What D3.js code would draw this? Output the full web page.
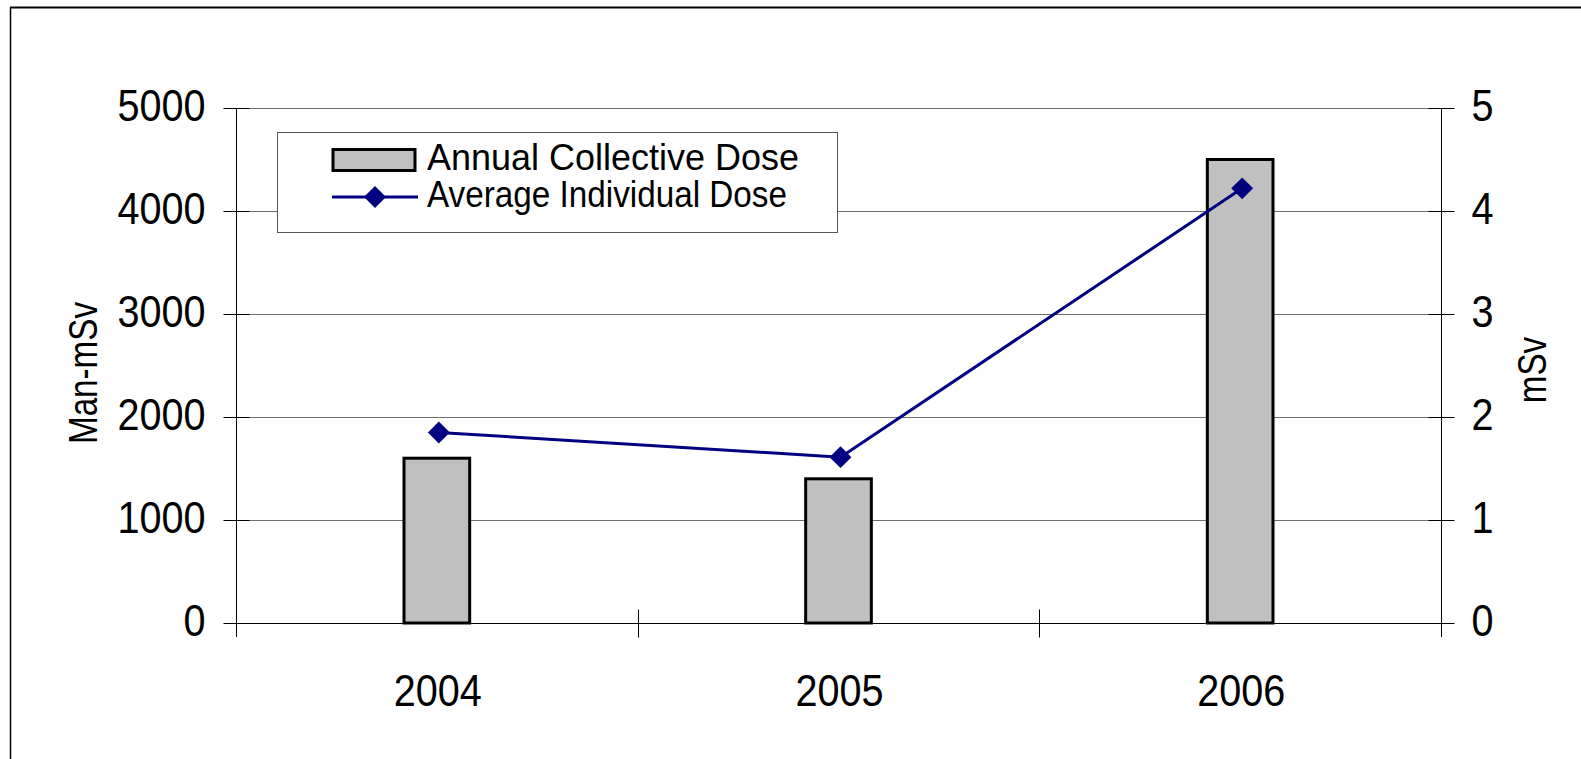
<!DOCTYPE html>
<html>
<head>
<meta charset="utf-8">
<script src="https://cdn.jsdelivr.net/npm/d3@7"></script>
<style>
  html, body { margin: 0; padding: 0; background: #fff; }
  svg { display: block; font-family: "Liberation Sans", Arial, sans-serif; }
</style>
</head>
<body>
<svg id="chart" width="1581" height="759"></svg>
<script>
// Dose data per year
const years = ["2004", "2005", "2006"];
const collectiveDose = [1600, 1400, 4500];     // Man-mSv (bars, left axis)
const individualDose = [1.85, 1.61, 4.22];     // mSv (line, right axis)
const leftTicks = [0, 1000, 2000, 3000, 4000, 5000];
const rightTicks = [0, 1, 2, 3, 4, 5];
const seriesNames = ["Annual Collective Dose", "Average Individual Dose"];

const svg = d3.select("#chart");
const W = 1581, H = 759;
const plot = { left: 236, right: 1441, top: 108, bottom: 623 };
const squeeze = 0.9; // the chart's lettering is slightly condensed

// outer frame (top and left edges)
svg.append("line").attr("x1", 10).attr("x2", W).attr("y1", 7.5).attr("y2", 7.5)
  .attr("stroke", "#000").attr("stroke-width", 2);
svg.append("line").attr("x1", 10.5).attr("x2", 10.5).attr("y1", 7).attr("y2", H)
  .attr("stroke", "#000").attr("stroke-width", 1.5);

const x = d3.scaleBand().domain(years).range([plot.left, plot.right]).padding(0);
const yL = d3.scaleLinear().domain([0, 5000]).range([plot.bottom, plot.top]);
const yR = d3.scaleLinear().domain([0, 5]).range([plot.bottom, plot.top]);

// horizontal gridlines
svg.append("g").selectAll("line").data(leftTicks.filter(d => d > 0)).join("line")
  .attr("x1", plot.left).attr("x2", plot.right)
  .attr("y1", d => Math.round(yL(d)) + 0.5).attr("y2", d => Math.round(yL(d)) + 0.5)
  .attr("stroke", "#6e6e6e").attr("stroke-width", 1);

// left axis
const gL = svg.append("g").attr("transform", `translate(${plot.left + 0.5},0)`)
  .call(d3.axisLeft(yL).tickValues(leftTicks).tickFormat(d3.format("d")).tickSize(13));
gL.select(".domain").attr("d", `M0,${plot.top}V${plot.bottom + 14}`).attr("stroke", "#000");
gL.selectAll(".tick line").attr("x1", -13).attr("x2", 13).attr("stroke", "#000");
gL.selectAll(".tick text")
  .attr("x", null).attr("dy", "0.32em")
  .attr("transform", `translate(-31,-2) scale(${squeeze},1)`)
  .attr("font-size", 44).attr("font-family", "Liberation Sans, Arial, sans-serif")
  .attr("fill", "#000").attr("text-anchor", "end");

// right axis
const gR = svg.append("g").attr("transform", `translate(${plot.right + 0.5},0)`)
  .call(d3.axisRight(yR).tickValues(rightTicks).tickFormat(d3.format("d")).tickSize(13));
gR.select(".domain").attr("d", `M0,${plot.top}V${plot.bottom + 14}`).attr("stroke", "#000");
gR.selectAll(".tick line").attr("x1", -13).attr("x2", 13).attr("stroke", "#000");
gR.selectAll(".tick text")
  .attr("x", null).attr("dy", "0.32em")
  .attr("transform", `translate(30,-2) scale(${squeeze},1)`)
  .attr("font-size", 44).attr("font-family", "Liberation Sans, Arial, sans-serif")
  .attr("fill", "#000").attr("text-anchor", "start");

// bottom axis: category boundaries as cross ticks, labels centred
const gB = svg.append("g").attr("transform", `translate(0,${plot.bottom + 0.5})`);
gB.append("line").attr("x1", plot.left).attr("x2", plot.right)
  .attr("stroke", "#000").attr("stroke-width", 1);
const bounds = years.map(d => x(d)).concat([x(years[years.length - 1]) + x.bandwidth()]);
gB.selectAll("line.cat").data(bounds.slice(1, -1)).join("line").attr("class", "cat")
  .attr("x1", d => Math.round(d) + 0.5).attr("x2", d => Math.round(d) + 0.5)
  .attr("y1", -14).attr("y2", 14).attr("stroke", "#000");
gB.selectAll("text").data(years).join("text")
  .attr("transform", d => `translate(${x(d) + x.bandwidth() / 2 + 1},82) scale(${squeeze},1)`)
  .attr("text-anchor", "middle").attr("font-size", 44).attr("fill", "#000")
  .text(d => d);

// bars
const barW = x.bandwidth() * 0.1635;
svg.append("g").selectAll("rect").data(years).join("rect")
  .attr("x", d => x(d) + x.bandwidth() / 2 - barW / 2)
  .attr("y", (d, i) => yL(collectiveDose[i]))
  .attr("width", barW)
  .attr("height", (d, i) => plot.bottom - yL(collectiveDose[i]))
  .attr("fill", "#c0c0c0").attr("stroke", "#000").attr("stroke-width", 3);

// line series with diamond markers
const pts = years.map((d, i) => [x(d) + x.bandwidth() / 2 + 2, yR(individualDose[i])]);
svg.append("path").attr("d", d3.line()(pts))
  .attr("fill", "none").attr("stroke", "#000080").attr("stroke-width", 3);
const diamondPath = d3.symbol().type(d3.symbolSquare).size(240)();
svg.append("g").selectAll("path").data(pts).join("path")
  .attr("transform", d => `translate(${d[0]},${d[1]}) rotate(45)`)
  .attr("d", diamondPath)
  .attr("fill", "#000080");

// axis titles
svg.append("text")
  .attr("transform", `translate(97,373) rotate(-90) scale(0.81,1)`)
  .attr("text-anchor", "middle").attr("font-size", 41).attr("fill", "#000")
  .text("Man-mSv");
svg.append("text")
  .attr("transform", `translate(1546,370) rotate(-90) scale(0.81,1)`)
  .attr("text-anchor", "middle").attr("font-size", 41).attr("fill", "#000")
  .text("mSv");

// legend
const legendTextWidths = [372, 360];
const lg = svg.append("g");
lg.append("rect").attr("x", 277.5).attr("y", 132.5).attr("width", 560).attr("height", 100)
  .attr("fill", "#fff").attr("stroke", "#555").attr("stroke-width", 1);
lg.append("rect").attr("x", 333).attr("y", 149.5).attr("width", 82).attr("height", 21)
  .attr("fill", "#c0c0c0").attr("stroke", "#000").attr("stroke-width", 3);
lg.append("line").attr("x1", 332).attr("x2", 418).attr("y1", 197).attr("y2", 197)
  .attr("stroke", "#000080").attr("stroke-width", 3);
lg.append("path").attr("transform", "translate(375,197) rotate(45)")
  .attr("d", diamondPath).attr("fill", "#000080");
lg.selectAll("text.leg").data(seriesNames).join("text").attr("class", "leg")
  .attr("x", 427).attr("y", (d, i) => 170 + i * 37)
  .attr("textLength", (d, i) => legendTextWidths[i])
  .attr("lengthAdjust", "spacingAndGlyphs")
  .attr("font-size", 36).attr("fill", "#000")
  .text(d => d);
</script>
</body>
</html>
